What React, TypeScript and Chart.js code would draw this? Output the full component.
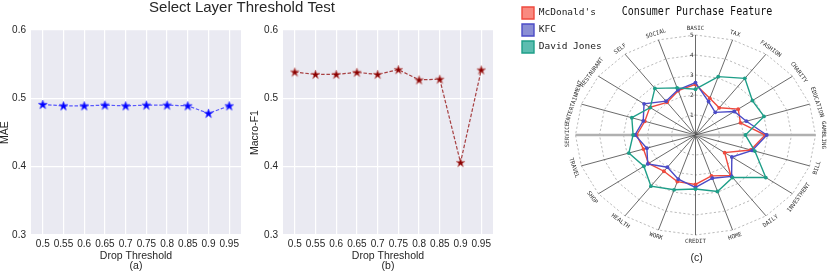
import React, { useEffect, useRef } from 'react';
import { Chart, registerables, RadialLinearScale } from 'chart.js';

// ---------- data ----------
const thresholds = [0.5, 0.55, 0.6, 0.65, 0.7, 0.75, 0.8, 0.85, 0.9, 0.95];
const thresholdLabels = ['0.5', '0.55', '0.6', '0.65', '0.7', '0.75', '0.8', '0.85', '0.9', '0.95'];
const maeValues = [0.491, 0.489, 0.489, 0.49, 0.489, 0.49, 0.49, 0.489, 0.478, 0.489];
const macroF1Values = [0.5385, 0.535, 0.535, 0.538, 0.535, 0.542, 0.527, 0.528, 0.406, 0.5415];
const yTicks = [0.3, 0.4, 0.5, 0.6];
const yTickLabels = ['0.3', '0.4', '0.5', '0.6'];

const categories = [
  'BASIC', 'TAX', 'FASHION', 'CHARITY', 'EDUCATION', 'GAMBLING', 'BILL', 'INVESTMENT', 'DAILY', 'HOME',
  'CREDIT', 'WORK', 'HEALTH', 'SHOP', 'TRAVEL', 'SERVICE', 'ENTERTAINMENT', 'RESTAURANT', 'SELF', 'SOCIAL',
];
const mcdonalds = [2.53, 1.93, 1.68, 2.2, 1.97, 2.9, 2.42, 1.5, 2.5, 2.15, 2.47, 2.45, 2.24, 2.42, 2.28, 2.45, 2.22, 2.35, 2.02, 2.33];
const kfc = [2.62, 1.76, 1.4, 2.0, 2.23, 2.97, 2.49, 1.87, 2.56, 2.27, 2.62, 2.32, 1.99, 2.46, 2.13, 2.52, 2.29, 2.65, 2.09, 2.38];
const davidJones = [2.29, 3.07, 3.5, 2.93, 3.0, 2.08, 2.6, 3.62, 2.63, 2.97, 2.7, 2.88, 3.16, 2.66, 2.92, 2.6, 2.79, 2.33, 2.88, 2.48];
const radialTicks = [1, 2, 3, 4, 5];
const seriesNames = ["McDonald's", 'KFC', 'David Jones'];

// ---------- geometry / styles ----------
const SX = 1.2; // horizontal stretch of radar
const RADAR_CX = 178.5;
const RADAR_CY = 133;
const RADAR_R = 100;
const TEXT = '#262626';
const SANS = "'Liberation Sans', Arial, sans-serif";
const MONO = "'DejaVu Sans Mono', monospace";

class EllipticRadialScale extends RadialLinearScale {
  static id = 'ellipticRadial';
  getPointPosition(index: number, distance: number, angle = 0) {
    const p: any = super.getPointPosition(index, distance, angle);
    return { x: this.xCenter + (p.x - this.xCenter) * SX, y: p.y, angle: p.angle };
  }
}

Chart.register(...registerables, EllipticRadialScale);
Chart.defaults.font.family = SANS;

function makeStar(fill: string, edge: string) {
  const c = document.createElement('canvas');
  const size = 11;
  c.width = size;
  c.height = size;
  const g = c.getContext('2d')!;
  const cx = size / 2, cy = size / 2 + 0.3, ro = 4.7, ri = 1.9;
  g.beginPath();
  for (let k = 0; k < 10; k++) {
    const r = k % 2 === 0 ? ro : ri;
    const a = -Math.PI / 2 + (k * Math.PI) / 5;
    const px = cx + r * Math.cos(a), py = cy + r * Math.sin(a);
    if (k === 0) g.moveTo(px, py); else g.lineTo(px, py);
  }
  g.closePath();
  g.fillStyle = fill;
  g.fill();
  g.lineWidth = 0.8;
  g.strokeStyle = edge;
  g.stroke();
  return c;
}

const plotBg = {
  id: 'plotBg',
  beforeDraw(chart: any) {
    const { ctx, chartArea: a } = chart;
    ctx.save();
    ctx.fillStyle = '#EAEAF2';
    ctx.fillRect(a.left, a.top, a.right - a.left, a.bottom - a.top);
    ctx.restore();
  },
};

function lineConfig(values: number[], lineColor: string, star: HTMLCanvasElement, yTitle: string, sub: string, yWidth: number, padRight: number, extraPlugins: any[]) {
  return {
    type: 'line',
    data: {
      datasets: [
        {
          data: thresholds.map((x, i) => ({ x, y: values[i] })),
          borderColor: lineColor,
          borderWidth: 1.2,
          borderDash: [3.5, 1.8],
          pointStyle: star,
          pointRadius: 4,
          pointHoverRadius: 4,
          fill: false,
          tension: 0,
        },
      ],
    },
    options: {
      animation: false,
      responsive: false,
      layout: { padding: { top: 30, right: padRight, left: 0, bottom: 0 } },
      plugins: { legend: { display: false }, tooltip: { enabled: false }, title: { display: false } },
      scales: {
        x: {
          type: 'linear',
          min: 0.4716,
          max: 0.9784,
          afterBuildTicks: (s: any) => { s.ticks = thresholds.map((v) => ({ value: v })); },
          afterFit: (s: any) => { s.height = 38; },
          ticks: { callback: (_v: any, i: number) => thresholdLabels[i], font: { size: 10 }, color: TEXT, padding: 3, maxRotation: 0, autoSkip: false },
          grid: { color: '#ffffff', lineWidth: 1.2, drawTicks: false },
          border: { display: false },
          title: { display: true, text: ['Drop Threshold', sub], font: { size: 10.5, lineHeight: 0.95 }, color: TEXT, padding: { top: 0, bottom: 2 } },
        },
        y: {
          type: 'linear',
          min: 0.3,
          max: 0.6,
          afterBuildTicks: (s: any) => { s.ticks = yTicks.map((v) => ({ value: v })); },
          afterFit: (s: any) => { s.width = yWidth; },
          ticks: { callback: (_v: any, i: number) => yTickLabels[i], font: { size: 10 }, color: TEXT, padding: 5 },
          grid: { color: '#ffffff', lineWidth: 1.2, drawTicks: false },
          border: { display: false },
          title: { display: true, text: yTitle, font: { size: 10.5, lineHeight: 1 }, color: TEXT, padding: { top: 0, bottom: 0 } },
        },
      },
    },
    plugins: [plotBg, ...extraPlugins],
  };
}

const mainTitle = {
  id: 'mainTitle',
  afterDraw(chart: any) {
    const ctx = chart.ctx;
    ctx.save();
    ctx.font = `15px ${SANS}`;
    ctx.fillStyle = TEXT;
    ctx.textAlign = 'center';
    ctx.textBaseline = 'middle';
    ctx.fillText('Select Layer Threshold Test', 242, 8);
    ctx.restore();
  },
};

const radarText = {
  id: 'radarText',
  afterDraw(chart: any) {
    const s = chart.scales.r;
    const ctx = chart.ctx;
    ctx.save();
    ctx.fillStyle = '#333';
    ctx.textAlign = 'center';
    ctx.textBaseline = 'middle';
    ctx.font = `5.8px ${MONO}`;
    const labelDist = s.getDistanceFromCenterForValue(s.max) * 1.065;
    categories.forEach((lab, i) => {
      const p = s.getPointPosition(i, labelDist);
      let deg = Math.round((s.getIndexAngle(i) * 180) / Math.PI * 1000) / 1000;
      if (deg > 90 && deg < 270) deg -= 180;
      else if (deg >= 270) deg -= 360;
      ctx.save();
      ctx.translate(p.x, p.y);
      ctx.rotate((deg * Math.PI) / 180);
      ctx.fillText(lab, 0, 0);
      ctx.restore();
    });
    ctx.font = `6px ${MONO}`;
    radialTicks.forEach((v) => {
      const d = s.getDistanceFromCenterForValue(v);
      ctx.fillText(String(v), s.xCenter - 3.8, s.yCenter - d);
    });
    ctx.fillStyle = '#111';
    ctx.font = `10px ${MONO}`;
    ctx.save();
    ctx.translate(180, 10);
    ctx.scale(1, 1.22);
    ctx.fillText('Consumer Purchase Feature', 0, 0);
    ctx.restore();
    ctx.fillStyle = TEXT;
    ctx.font = `10.5px ${SANS}`;
    ctx.fillText('(c)', 179.7, 256.3);
    ctx.restore();
  },
};

const radarColors = ['#EE4A3E', '#4B4BC6', '#1E9E88'];
const radarFills = ['#F98A80', '#8A8ED4', '#5CBDB0'];

export default function App() {
  const aRef = useRef<HTMLCanvasElement>(null);
  const bRef = useRef<HTMLCanvasElement>(null);
  const cRef = useRef<HTMLCanvasElement>(null);

  useEffect(() => {
    const blueStar = makeStar('#0000FF', '#4a4aff');
    const redStar = makeStar('#8B0000', '#c47a7a');
    const a = new Chart(aRef.current!, lineConfig(maeValues, 'rgba(40,40,255,0.75)', blueStar, 'MAE', '(a)', 31, 104, [mainTitle]) as any);
    const b = new Chart(bRef.current!, lineConfig(macroF1Values, 'rgba(150,20,20,0.8)', redStar, 'Macro-F1', '(b)', 33, 19, []) as any);

    const series = [mcdonalds, kfc, davidJones];
    const c = new Chart(cRef.current!, {
      type: 'radar',
      data: {
        labels: categories,
        datasets: series.map((vals, k) => ({
          label: seriesNames[k],
          data: vals,
          borderColor: radarColors[k],
          backgroundColor: radarFills[k],
          pointBackgroundColor: radarColors[k],
          pointBorderColor: radarColors[k],
          pointBorderWidth: 0,
          pointRadius: 1.9,
          borderWidth: 1.4,
          fill: false,
          tension: 0,
          order: 2 - k,
        })),
      },
      options: {
        animation: false,
        responsive: false,
        layout: { padding: 0 },
        scales: {
          r: {
            type: 'ellipticRadial',
            min: 0,
            max: 5,
            afterFit: (s: any) => { s.xCenter = RADAR_CX; s.yCenter = RADAR_CY; s.drawingArea = RADAR_R; },
            ticks: { display: false, stepSize: 1 },
            pointLabels: { display: false },
            grid: { color: '#aaaaaa', lineWidth: 0.8, circular: false },
            border: { dash: [2.2, 2.2] },
            angleLines: {
              color: (ctx: any) => (ctx.index === 5 || ctx.index === 15 ? '#b0b0b0' : '#444'),
              lineWidth: (ctx: any) => (ctx.index === 5 || ctx.index === 15 ? 2.5 : 0.8),
            },
          },
        },
        plugins: {
          tooltip: { enabled: false },
          title: { display: false },
          legend: {
            position: 'chartArea',
            align: 'start',
            fullSize: false,
            labels: {
              boxWidth: 12,
              boxHeight: 12,
              padding: 5,
              color: '#222',
              font: { family: MONO, size: 9.5 },
              sort: (x: any, y: any) => x.datasetIndex - y.datasetIndex,
            },
          },
        },
      },
      plugins: [radarText],
    } as any);

    return () => { a.destroy(); b.destroy(); c.destroy(); };
  }, []);

  return (
    <div style={{ position: 'absolute', left: 0, top: 0, width: 830, height: 273, background: '#fff', overflow: 'hidden' }}>
      <canvas ref={aRef} width={345} height={273} style={{ position: 'absolute', left: 0, top: 0 }} />
      <canvas ref={bRef} width={262} height={273} style={{ position: 'absolute', left: 250, top: 0 }} />
      <canvas ref={cRef} width={313} height={271} style={{ position: 'absolute', left: 517, top: 2 }} />
    </div>
  );
}
